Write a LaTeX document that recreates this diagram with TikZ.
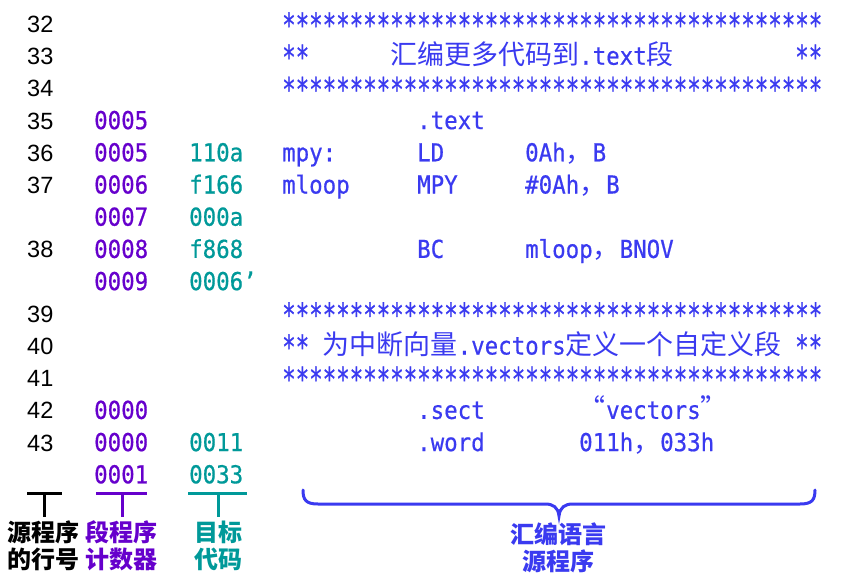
\documentclass[tikz,border=0pt]{standalone}
\usepackage{fontspec}
\newfontfamily\lnfont{Liberation Sans}
\newfontfamily\codefont[FakeStretch=0.908,FakeBold=0.6]{DejaVu Sans Mono}
\newfontfamily\starfont[FakeStretch=0.688,FakeBold=0.6]{DejaVu Sans Mono}
\newfontfamily\cjkfont{Noto Sans CJK SC}
\definecolor{cblue}{RGB}{58,58,240}
\definecolor{cpurple}{RGB}{102,0,204}
\definecolor{cteal}{RGB}{0,153,153}
\newcommand{\starsline}{****************************************}
\tikzset{
  ln/.style={anchor=base west, inner sep=0pt, text=black, font=\lnfont\fontsize{23.5}{23.5}\selectfont},
  cnt/.style={anchor=base west, inner sep=0pt, text=cpurple, font=\codefont\fontsize{24.7}{25}\selectfont},
  obj/.style={anchor=base west, inner sep=0pt, text=cteal, font=\codefont\fontsize{24.7}{25}\selectfont},
  asm/.style={anchor=base west, inner sep=0pt, text=cblue, font=\codefont\fontsize{24.7}{25}\selectfont},
  asmstar/.style={anchor=base west, inner sep=0pt, text=cblue, font=\starfont\fontsize{32.6}{33}\selectfont, yshift=-4pt},
  asmcjk/.style={anchor=base west, inner sep=0pt, text=cblue, font=\cjkfont\fontsize{27}{27}\selectfont},
  lab/.style={inner sep=0pt, align=center, font=\cjkfont\bfseries\fontsize{24}{27}\selectfont},
  tbar/.style={line width=3pt},
  bracebar/.style={line width=3pt, draw=cblue, line cap=round}
}
\begin{document}
\begin{tikzpicture}[x=1pt,y=-1pt]
\useasboundingbox (0,0) rectangle (843,580);
% line numbers
\node[ln] (n32) at (27,32.5) {32};
\node[ln] (n33) at (27,64.7) {33};
\node[ln] (n34) at (27,96.9) {34};
\node[ln] (n35) at (27,129.1) {35};
\node[ln] (n36) at (27,161.3) {36};
\node[ln] (n37) at (27,193.5) {37};
\node[ln] (n38) at (27,257.9) {38};
\node[ln] (n39) at (27,322.3) {39};
\node[ln] (n40) at (27,354.5) {40};
\node[ln] (n41) at (27,386.7) {41};
\node[ln] (n42) at (27,418.9) {42};
\node[ln] (n43) at (27,451.1) {43};
% section program counter
\node[cnt] (c35) at (94,129.1) {0005};
\node[cnt] (c36) at (94,161.3) {0005};
\node[cnt] (c37) at (94,193.5) {0006};
\node[cnt] (c37b) at (94,225.7) {0007};
\node[cnt] (c38) at (94,257.9) {0008};
\node[cnt] (c38b) at (94,290.1) {0009};
\node[cnt] (c42) at (94,418.9) {0000};
\node[cnt] (c43) at (94,451.1) {0000};
\node[cnt] (c43b) at (94,483.3) {0001};
% object code
\node[obj] (o36) at (189,161.3) {110a};
\node[obj] (o37) at (189,193.5) {f166};
\node[obj] (o37b) at (189,225.7) {000a};
\node[obj] (o38) at (189,257.9) {f868};
\node[obj] (o38b) at (189,290.1) {0006’};
\node[obj] (o43) at (189,451.1) {0011};
\node[obj] (o43b) at (189,483.3) {0033};
% assembly source
\node[asmstar] (s32) at (282,32.5) {\starsline};
\node[asmstar] (s33a) at (282,64.7) {**};
\node[asmcjk] (s33b) at ({282+13.5*8},64.7) {汇编更多代码到};
\node[asm] (s33c) at ({282+13.5*22},64.7) {.text};
\node[asmcjk] (s33d) at ({282+13.5*27},64.7) {段};
\node[asmstar] (s33e) at ({282+13.5*38},64.7) {**};
\node[asmstar] (s34) at (282,96.9) {\starsline};
\node[asm] (s35) at ({282+13.5*10},129.1) {.text};
\node[asm] (s36a) at (282,161.3) {mpy:};
\node[asm] (s36b) at ({282+13.5*10},161.3) {LD};
\node[asm] (s36c) at ({282+13.5*18},161.3) {0Ah};
\node[asmcjk] (s36d) at ({282+13.5*21},161.3) {，};
\node[asm] (s36e) at ({282+13.5*23},161.3) {B};
\node[asm] (s37a) at (282,193.5) {mloop};
\node[asm] (s37b) at ({282+13.5*10},193.5) {MPY};
\node[asm] (s37c) at ({282+13.5*18},193.5) {\#0Ah};
\node[asmcjk] (s37d) at ({282+13.5*22},193.5) {，};
\node[asm] (s37e) at ({282+13.5*24},193.5) {B};
\node[asm] (s38b) at ({282+13.5*10},257.9) {BC};
\node[asm] (s38c) at ({282+13.5*18},257.9) {mloop};
\node[asmcjk] (s38d) at ({282+13.5*23},257.9) {，};
\node[asm] (s38e) at ({282+13.5*25},257.9) {BNOV};
\node[asmstar] (s39) at (282,322.3) {\starsline};
\node[asmstar] (s40a) at (282,354.5) {**};
\node[asmcjk] (s40b) at ({282+13.5*3},354.5) {为中断向量};
\node[asm] (s40c) at ({282+13.5*13},354.5) {.vectors};
\node[asmcjk] (s40d) at ({282+13.5*21},354.5) {定义一个自定义段};
\node[asmstar] (s40e) at ({282+13.5*38},354.5) {**};
\node[asmstar] (s41) at (282,386.7) {\starsline};
\node[asm] (s42a) at ({282+13.5*10},418.9) {.sect};
\node[asmcjk, anchor=base east] (s42b) at ({282+13.5*24},418.9) {“};
\node[asm] (s42c) at ({282+13.5*24},418.9) {vectors};
\node[asmcjk] (s42d) at ({282+13.5*31},418.9) {”};
\node[asm] (s43a) at ({282+13.5*10},451.1) {.word};
\node[asm] (s43b) at ({282+13.5*22},451.1) {011h};
\node[asmcjk] (s43c) at ({282+13.5*26},451.1) {，};
\node[asm] (s43d) at ({282+13.5*28},451.1) {033h};
% column brackets
\draw[tbar, draw=black] (27,493) -- (62,493);
\draw[tbar, draw=black] (44,493) -- (44,517);
\draw[tbar, draw=cpurple] (96,493) -- (147,493);
\draw[tbar, draw=cpurple] (122,493) -- (122,517);
\draw[tbar, draw=cteal] (188,493) -- (247,493);
\draw[tbar, draw=cteal] (218,493) -- (218,517);
% brace
\draw[bracebar] (303,490) .. controls (303,500) and (306,504) .. (318,504)
  -- (545,504) .. controls (553,504) and (558,507) .. (559,516)
  .. controls (560,507) and (565,504) .. (573,504)
  -- (800,504) .. controls (812,504) and (815,500) .. (815,490);
% labels
\node[lab, text=black] (l1) at (44,545.5) {源程序\\的行号};
\node[lab, text=cpurple] (l2) at (121,545.5) {段程序\\计数器};
\node[lab, text=cteal] (l3) at (218,545.5) {目标\\代码};
\node[lab, text=cblue] (l4) at (558,548) {汇编语言\\源程序};
\end{tikzpicture}
\end{document}
